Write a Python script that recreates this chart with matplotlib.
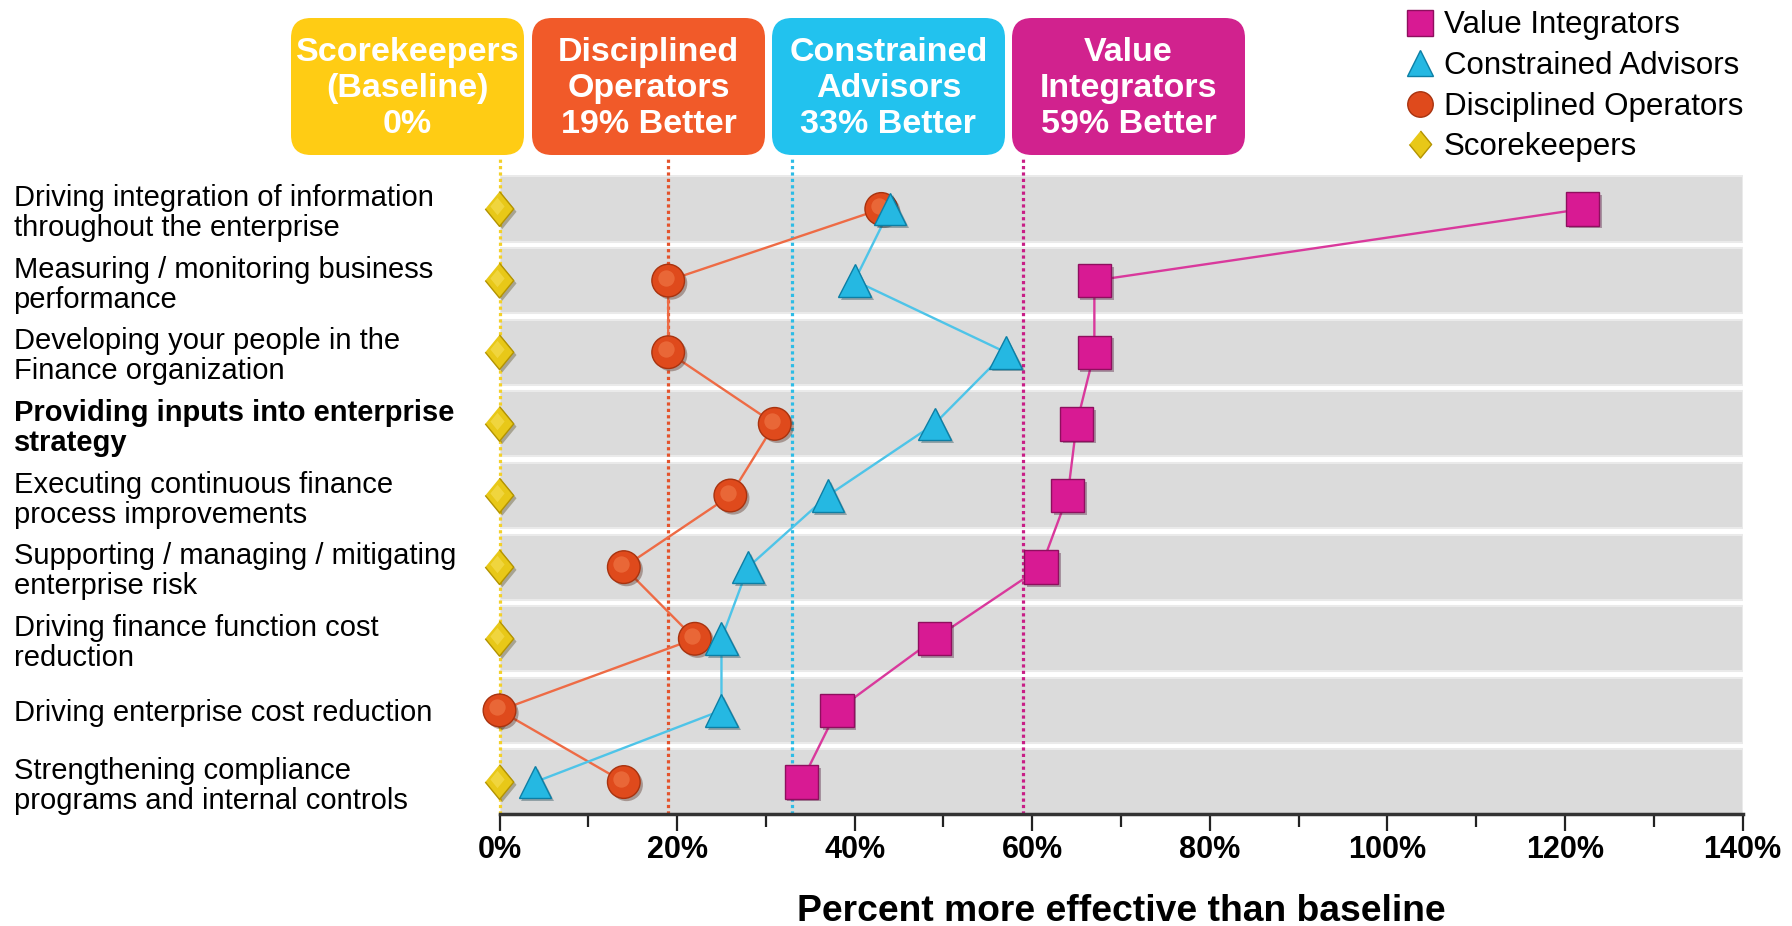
import numpy as np
import matplotlib.pyplot as plt
import matplotlib.patheffects as pe
import matplotlib.transforms as mtransforms
from matplotlib.patches import FancyBboxPatch
from matplotlib.lines import Line2D

plt.rcParams['font.family'] = ['Liberation Sans', 'DejaVu Sans']

# categorias (de arriba hacia abajo)
categorias = [
    "Driving integration of information\nthroughout the enterprise",
    "Measuring / monitoring business\nperformance",
    "Developing your people in the\nFinance organization",
    "Providing inputs into enterprise\nstrategy",
    "Executing continuous finance\nprocess improvements",
    "Supporting / managing / mitigating\nenterprise risk",
    "Driving finance function cost\nreduction",
    "Driving enterprise cost reduction",
    "Strengthening compliance\nprograms and internal controls",
]
fila_negrita = 3

# % mas efectivo que la linea base
value_integrators = [122, 67, 67, 65, 64, 61, 49, 38, 34]
constrained_advisors = [44, 40, 57, 49, 37, 28, 25, 25, 4]
disciplined_operators = [43, 19, 19, 31, 26, 14, 22, 0, 14]
scorekeepers = [0, 0, 0, 0, 0, 0, 0, 0, 0]

# encabezados y promedio de cada grupo
grupos = ["Scorekeepers\n(Baseline)\n0%",
          "Disciplined\nOperators\n19% Better",
          "Constrained\nAdvisors\n33% Better",
          "Value\nIntegrators\n59% Better"]
promedios = [0, 19, 33, 59]

xticks = [0, 20, 40, 60, 80, 100, 120, 140]
xticklabels = ["0%", "20%", "40%", "60%", "80%", "100%", "120%", "140%"]

# colores
amarillo = '#FFCC14'
naranja = '#F15A29'
cian = '#22C2EE'
magenta = '#D1228E'
colores_caja = [amarillo, naranja, cian, magenta]
colores_guia = ['#F3D02A', '#E4532C', '#2DBCE6', '#C81E86']

W, H = 1792, 926
fig = plt.figure(figsize=(W / 100, H / 100), dpi=100)

# capa en pixeles para las cajas de encabezado
ov = fig.add_axes([0, 0, 1, 1], zorder=0)
ov.set_xlim(0, W)
ov.set_ylim(H, 0)
ov.axis('off')

cajas_x = [291, 532, 772, 1012]
for x0, c, txt in zip(cajas_x, colores_caja, grupos):
    caja = FancyBboxPatch((x0, 18), 233, 137, boxstyle='round,pad=0,rounding_size=20',
                          facecolor=c, edgecolor='none')
    ov.add_patch(caja)
    ov.text(x0 + 116.5, 88.5, txt, ha='center', va='center', color='white',
            fontsize=24.5, fontweight='bold', linespacing=1.19)

# grafica principal
x_izq, x_der = 499.5, 1742.5
y_sup, y_inf = 175, 814
ax = fig.add_axes([x_izq / W, 1 - y_inf / H, (x_der - x_izq) / W, (y_inf - y_sup) / H], zorder=1)
ax.patch.set_alpha(0)

filas = np.arange(len(categorias))
ax.set_xlim(0, 140)
ax.set_ylim(8.446, -0.474)

# bandas grises por fila
for i in filas:
    ax.axhspan(max(i - 0.455, -0.474), min(i + 0.455, 8.446), facecolor='#DBDBDB',
               edgecolor='#EAEAEA', linewidth=1.5, zorder=0)

# lineas punteadas de promedio
for m, c in zip(promedios, colores_guia):
    ax.plot([m, m], [0, 1.028], transform=ax.get_xaxis_transform(), color=c,
            lw=2.3, ls=(0, (1, 1)), clip_on=False, zorder=2)

sombra = [pe.SimplePatchShadow(offset=(2, -2), alpha=0.35), pe.Normal()]
brillo_tr = mtransforms.offset_copy(ax.transData, fig=fig, x=-2.5, y=3, units='dots')

# (valores, nombre, relleno, borde, reflejo, linea, marcador, tamano)
series = [
    (scorekeepers, 'Scorekeepers', '#E8C818', '#B39300', '#F8E15E', None,
     [(0, 1), (0.82, 0), (0, -1), (-0.82, 0)], 25),
    (disciplined_operators, 'Disciplined Operators', '#DF4A1C', '#A8330F', '#F3804F', '#EE6B45', 'o', 23.5),
    (constrained_advisors, 'Constrained Advisors', '#25B8E2', '#0C7FA5', None, '#4EC4E8', '^', 23.5),
    (value_integrators, 'Value Integrators', '#D81A93', '#8E0F5E', None, '#D9399C', 's', 24),
]

handles = {}
for k, (vals, nombre, cara, borde, luz, linea, marcador, ms) in enumerate(series):
    if linea is not None:
        ax.plot(vals, filas, color=linea, lw=1.7, zorder=3 + k * 0.1)
    ax.plot(vals, filas, ls='none', marker=marcador, ms=ms, mfc=cara, mec=borde,
            mew=1.0, zorder=5 + k, path_effects=sombra, clip_on=False)
    if luz is not None:
        # reflejo para dar volumen
        ax.plot(vals, filas, ls='none', marker=marcador, ms=ms * 0.5, mfc=luz, mec='none',
                alpha=0.55, zorder=5.05 + k, transform=brillo_tr, clip_on=False)
    handles[nombre] = Line2D([], [], ls='none', marker=marcador, ms=ms * 0.78,
                             mfc=cara, mec=borde, mew=1.0)

# ejes
for lado in ['top', 'right', 'left']:
    ax.spines[lado].set_visible(False)
ax.spines['bottom'].set_linewidth(2.5)
ax.spines['bottom'].set_color('#333333')
ax.spines['bottom'].set_zorder(4)

ax.set_xticks(xticks, xticklabels, fontsize=22, fontweight='bold')
ax.set_xticks(np.arange(10, 140, 20), minor=True)
ax.tick_params(axis='x', which='major', length=12, width=1.6, pad=3, color='#222222')
ax.tick_params(axis='x', which='minor', length=9, width=1.6, color='#222222')
ax.set_xlabel('Percent more effective than baseline', fontsize=26.8, fontweight='bold',
              labelpad=21)

ax.set_yticks(filas, categorias, fontsize=21, linespacing=1.1)
ax.tick_params(axis='y', length=0, pad=(x_izq - 13.5) * 0.72)
for i, lbl in enumerate(ax.get_yticklabels()):
    lbl.set_horizontalalignment('left')
    if i == fila_negrita:
        lbl.set_fontweight('bold')

orden = ['Value Integrators', 'Constrained Advisors', 'Disciplined Operators', 'Scorekeepers']
fig.legend([handles[n] for n in orden], orden, loc='upper left',
           bbox_to_anchor=(1406 / W, 1 - 10.5 / H), frameon=False, fontsize=22.5,
           handlelength=0.9, handletextpad=0.3, labelspacing=0.34, borderpad=0,
           borderaxespad=0)

fig.savefig('out.png', dpi=100)
